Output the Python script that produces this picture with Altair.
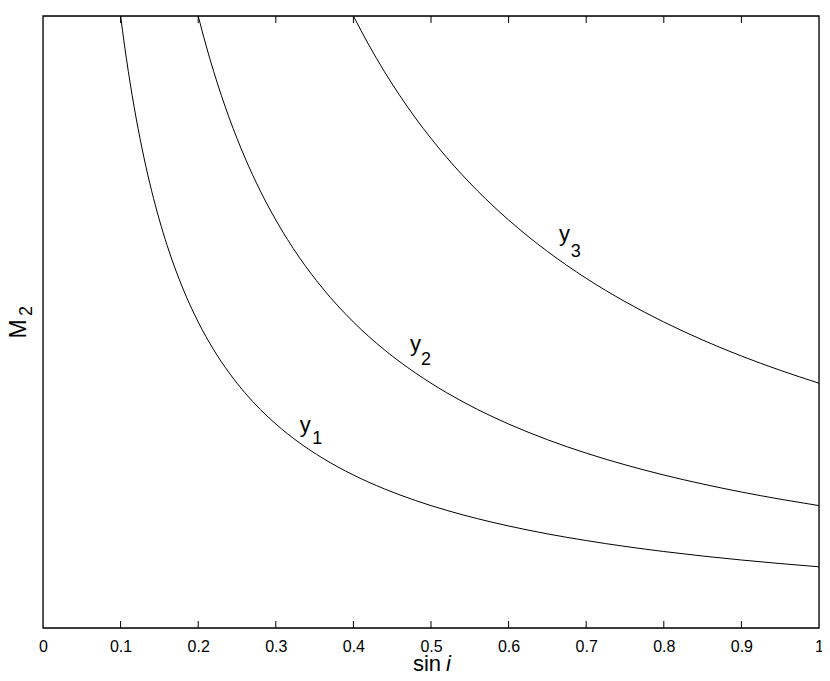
import altair as alt
import pandas as pd

# sin i values at which curves were read
x1 = [0.100, 0.105, 0.110, 0.115, 0.120, 0.130, 0.140, 0.150, 0.160, 0.180, 0.200,
      0.220, 0.240, 0.260, 0.280, 0.300, 0.330, 0.360, 0.400, 0.440, 0.480, 0.520,
      0.560, 0.600, 0.650, 0.700, 0.750, 0.800, 0.850, 0.900, 0.950, 1.000]
y1 = [10.00, 9.524, 9.091, 8.696, 8.333, 7.692, 7.143, 6.667, 6.250, 5.556, 5.000,
      4.545, 4.167, 3.846, 3.571, 3.333, 3.030, 2.778, 2.500, 2.273, 2.083, 1.923,
      1.786, 1.667, 1.538, 1.429, 1.333, 1.250, 1.176, 1.111, 1.053, 1.000]

x2 = [0.200, 0.210, 0.220, 0.230, 0.240, 0.260, 0.280, 0.300, 0.330, 0.360, 0.400,
      0.440, 0.480, 0.520, 0.560, 0.600, 0.650, 0.700, 0.750, 0.800, 0.850, 0.900,
      0.950, 1.000]
y2 = [10.00, 9.524, 9.091, 8.696, 8.333, 7.692, 7.143, 6.667, 6.061, 5.556, 5.000,
      4.545, 4.167, 3.846, 3.571, 3.333, 3.077, 2.857, 2.667, 2.500, 2.353, 2.222,
      2.105, 2.000]

x3 = [0.400, 0.420, 0.440, 0.460, 0.480, 0.520, 0.560, 0.600, 0.650, 0.700, 0.750,
      0.800, 0.850, 0.900, 0.950, 1.000]
y3 = [10.00, 9.524, 9.091, 8.696, 8.333, 7.692, 7.143, 6.667, 6.154, 5.714, 5.333,
      5.000, 4.706, 4.444, 4.211, 4.000]

tick_vals = [0.1, 0.2, 0.3, 0.4, 0.5, 0.6, 0.7, 0.8, 0.9]
tick_labels = [0, 0.1, 0.2, 0.3, 0.4, 0.5, 0.6, 0.7, 0.8, 0.9, 1]

# curve labels (main letter and subscript)
lab_text = ["y", "y", "y"]
lab_x = [0.331, 0.473, 0.665]
lab_y = [3.21, 4.52, 6.32]
sub_text = ["1", "2", "3"]
sub_x = [0.347, 0.487, 0.680]
sub_y = [3.01, 4.29, 6.07]

FONT = "Liberation Sans"
W, H = 776, 612

rows = []
for name, xs, ys in (("y1", x1, y1), ("y2", x2, y2), ("y3", x3, y3)):
    for a, b in zip(xs, ys):
        rows.append({"series": name, "x": a, "y": b})
df = pd.DataFrame(rows)

xscale = alt.Scale(domain=[0, 1], nice=False, zero=False)
yscale = alt.Scale(domain=[0, 10], nice=False, zero=False)

lines = alt.Chart(df).mark_line(color="black", strokeWidth=1, interpolate="monotone").encode(
    x=alt.X("x:Q", scale=xscale,
            axis=alt.Axis(values=tick_labels, title=None, ticks=False, tickSize=0,
                          domain=False, grid=False, labelFont=FONT, labelFontSize=16,
                          labelColor="black", labelBaseline="alphabetic",
                          labelPadding=23, labelFlush=False,
                          labelExpr="datum.value == 0 ? '0' : datum.value == 1 ? '1' : format(datum.value, '.1f')")),
    y=alt.Y("y:Q", scale=yscale, axis=None),
    detail="series:N",
)

one = pd.DataFrame({"k": [0]})
frame = alt.Chart(one).mark_rect(filled=False, stroke="black", strokeWidth=1.3).encode(
    x=alt.value(0), x2=alt.value(W), y=alt.value(0), y2=alt.value(H))

tdf = pd.DataFrame({"x": tick_vals})
ticks_bottom = alt.Chart(tdf).mark_rule(color="black", strokeWidth=1).encode(
    x=alt.X("x:Q", scale=xscale), y=alt.value(H), y2=alt.value(H - 7))
ticks_top = alt.Chart(tdf).mark_rule(color="black", strokeWidth=1).encode(
    x=alt.X("x:Q", scale=xscale), y=alt.value(0), y2=alt.value(7))

ldf = pd.DataFrame({"x": lab_x, "y": lab_y, "t": lab_text})
sdf = pd.DataFrame({"x": sub_x, "y": sub_y, "t": sub_text})
labels = alt.Chart(ldf).mark_text(font=FONT, fontSize=22, align="left",
                                  baseline="alphabetic", color="black").encode(
    x=alt.X("x:Q", scale=xscale), y=alt.Y("y:Q", scale=yscale), text="t:N")
subs = alt.Chart(sdf).mark_text(font=FONT, fontSize=18, align="left",
                                baseline="alphabetic", color="black").encode(
    x=alt.X("x:Q", scale=xscale), y=alt.Y("y:Q", scale=yscale), text="t:N")

xt1 = alt.Chart(one).mark_text(text="sin", font=FONT, fontSize=22, align="right",
                               baseline="alphabetic", color="black").encode(
    x=alt.value(398), y=alt.value(655))
xt2 = alt.Chart(one).mark_text(text="i", font=FONT, fontSize=22, fontStyle="italic",
                               align="left", baseline="alphabetic", color="black").encode(
    x=alt.value(403), y=alt.value(655))
yt1 = alt.Chart(one).mark_text(text="M", font=FONT, fontSize=23, angle=270,
                               align="center", baseline="alphabetic", color="black").encode(
    x=alt.value(-17), y=alt.value(313))
yt2 = alt.Chart(one).mark_text(text="2", font=FONT, fontSize=18, angle=270,
                               align="left", baseline="alphabetic", color="black").encode(
    x=alt.value(-11), y=alt.value(300))

chart = alt.layer(lines, frame, ticks_bottom, ticks_top, labels, subs, xt1, xt2, yt1, yt2).properties(
    width=W, height=H,
    autosize=alt.AutoSizeParams(type="none"),
    padding={"left": 35, "top": 8, "right": 3, "bottom": 45},
).configure_view(stroke="transparent").configure(background="white")

chart.save("out.html", embed_options={"renderer": "svg", "actions": False})
